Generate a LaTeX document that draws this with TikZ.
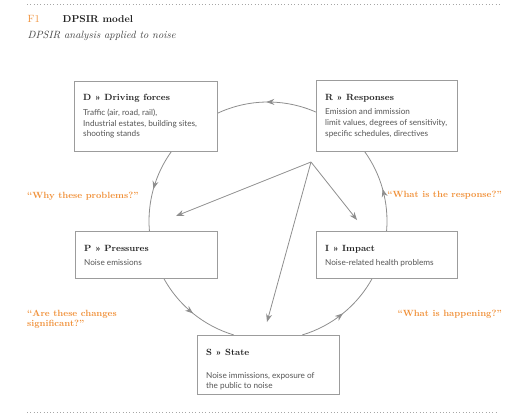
\documentclass[tikz,border=0pt]{standalone}
\usepackage{fontspec}
\setsansfont{Lato}
\usetikzlibrary{arrows.meta,decorations.markings}
\definecolor{orng}{HTML}{F0913A}
\definecolor{lgray}{HTML}{8E8E8E}
\definecolor{bgray}{HTML}{9C9C9C}
\definecolor{txt}{HTML}{555555}
\definecolor{head}{HTML}{222222}
\begin{document}
\begin{tikzpicture}[x=1pt,y=-1pt,
  box/.style={draw=bgray,line width=0.8pt,fill=white,inner sep=0pt,anchor=north west},
  hd/.style={anchor=base west,inner sep=0pt,font=\bfseries\fontsize{9}{10}\selectfont,text=head},
  bd/.style={anchor=north west,inner sep=0pt,align=left,font=\sffamily\fontsize{8.2}{10.8}\selectfont,text=txt},
  q/.style={inner sep=0pt,font=\bfseries\fontsize{9}{10.6}\selectfont,text=orng},
  cyc/.style={draw=lgray,line width=0.8pt,postaction={decorate},
    decoration={markings,mark=at position 0.5 with {\arrow{Stealth[length=8pt,width=6pt]}}}},
  ray/.style={draw=lgray,line width=0.8pt,-{Stealth[length=8pt,width=6pt]}},
  dots/.style={draw=gray!70,line width=1pt,dash pattern=on 1pt off 2.3pt}]
\useasboundingbox (0,0) rectangle (530,416);

% rules
\coordinate (t1) at (27,4.5);
\coordinate (t2) at (502,4.5);
\coordinate (b1) at (27,412.5);
\coordinate (b2) at (496,412.5);
\draw[dots] (t1) -- (t2);
\draw[dots] (b1) -- (b2);

% title
\node[anchor=base west,inner sep=0pt,text=orng,font=\fontsize{10.5}{12}\selectfont] (f1) at (27.5,22) {F1};
\node[anchor=base west,inner sep=0pt,text=head,font=\bfseries\fontsize{10}{12}\selectfont] (ttl) at (62.5,22) {DPSIR model};
\node[anchor=base west,inner sep=0pt,text=head!85,font=\itshape\fontsize{10.5}{12}\selectfont] (sub) at (27.5,38.5) {DPSIR analysis applied to noise};

% cycle arcs
\coordinate (c) at (268,221);
\draw[cyc] ([shift={(-66.2:119)}]c) arc[start angle=-66.2,end angle=-115.4,radius=119];
\draw[cyc] ([shift={(-144.0:119)}]c) arc[start angle=-144.0,end angle=-184.8,radius=119];
\draw[cyc] ([shift={(151.4:119)}]c) arc[start angle=151.4,end angle=106.7,radius=119];
\draw[cyc] ([shift={(73.3:119)}]c) arc[start angle=73.3,end angle=28.6,radius=119];
\draw[cyc] ([shift={(4.8:119)}]c) arc[start angle=4.8,end angle=-36.0,radius=119];

% boxes
\node[box,minimum width=143pt,minimum height=70pt] (D) at (74,81) {};
\node[box,minimum width=141pt,minimum height=71pt] (R) at (316,80) {};
\node[box,minimum width=142pt,minimum height=47pt] (P) at (75,231) {};
\node[box,minimum width=141pt,minimum height=47pt] (I) at (316,231) {};
\node[box,minimum width=142pt,minimum height=59pt] (S) at (197,335) {};

% box texts
\node[hd] (Dh) at (83,100.5) {D » Driving forces};
\node[bd] (Db) at (83,108.7) {Traffic (air, road, rail),\\Industrial estates, building sites,\\shooting stands};
\node[hd] (Rh) at (325,100.5) {R » Responses};
\node[bd] (Rb) at (325,108.7) {Emission and immission\\limit values, degrees of sensitivity,\\specific schedules, directives};
\node[hd] (Ph) at (84,251.5) {P » Pressures};
\node[bd] (Pb) at (84,258.9) {Noise emissions};
\node[hd] (Ih) at (325,251.5) {I » Impact};
\node[bd] (Ib) at (325,258.9) {Noise-related health problems};
\node[hd] (Sh) at (206,355.5) {S » State};
\node[bd] (Sb) at (206,371.9) {Noise immissions, exposure of\\the public to noise};

% rays from R
\coordinate (hub) at (311,162);
\coordinate (pE) at (176,216);
\coordinate (sE) at (267,322);
\coordinate (iE) at (357,220);
\draw[ray] (hub) -- (pE);
\draw[ray] (hub) -- (sE);
\draw[ray] (hub) -- (iE);

% questions
\node[q,anchor=base west] (q1) at (27,198) {“Why these problems?”};
\node[q,anchor=base east] (q2) at (502,197.5) {“What is the response?”};
\node[q,anchor=north west,align=left] (q3) at (27,309.5) {“Are these changes\\significant?”};
\node[q,anchor=base east] (q4) at (502,316) {“What is happening?”};
\end{tikzpicture}
\end{document}
